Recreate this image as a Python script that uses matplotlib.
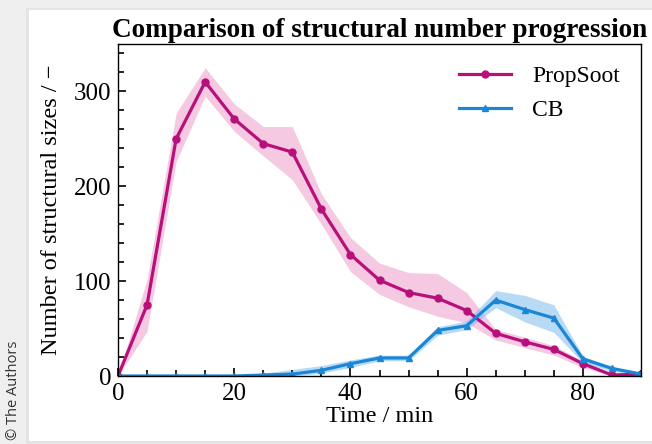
import matplotlib as mpl
import matplotlib.pyplot as plt
from matplotlib.patches import Rectangle
from matplotlib.ticker import MultipleLocator

mpl.rcParams["font.family"] = ["Liberation Serif", "DejaVu Serif"]
mpl.rcParams["mathtext.fontset"] = "stix"

# data
time = [0, 5, 10, 15, 20, 25, 30, 35, 40, 45, 50, 55, 60, 65, 70, 75, 80, 85, 90]

propsoot = [0, 75, 250, 310, 271, 245, 236, 176, 128, 101, 88, 82, 69, 45, 36, 28, 13, 1, 2]
propsoot_hi = [0, 102, 277, 325, 287, 263, 263, 192, 146, 119, 109, 108, 88, 49, 41, 32, 16, 3, 3]
propsoot_lo = [0, 47, 226, 295, 258, 232, 207, 160, 110, 86, 73, 63, 56, 38, 30, 22, 9, 0, 1]

cb = [0, 0, 0, 0, 0, 1, 2, 6, 13, 19, 19, 48, 53, 80, 70, 61, 18, 8, 2]
cb_hi = [0, 1, 1, 1, 1, 3, 7, 11, 17, 22, 22, 52, 58, 90, 85, 75, 21, 10, 3]
cb_lo = [0, 0, 0, 0, 0, 0, 0, 3, 9, 16, 16, 43, 49, 72, 57, 46, 14, 5, 1]

pink = "#b8107a"
blue = "#1a86d6"

fig = plt.figure(figsize=(6.52, 4.44), dpi=100, facecolor="#efefef")
# white card with a light shadow, as in the screenshot
fig.patches.append(Rectangle((26 / 652, 0), 1, 1 - 8 / 444, transform=fig.transFigure,
                             facecolor="#e4e4e4", edgecolor="none", zorder=-10))
fig.patches.append(Rectangle((29 / 652, 3 / 444), 1, 1 - 13 / 444, transform=fig.transFigure,
                             facecolor="white", edgecolor="none", zorder=-9))

ax = fig.add_axes([118 / 652, (444 - 376) / 444, (641 - 118) / 652, (376 - 44) / 444])

ax.fill_between(time, propsoot_lo, propsoot_hi, color="#e889bd", alpha=0.45, linewidth=0)
ax.fill_between(time, cb_lo, cb_hi, color="#7fbdee", alpha=0.55, linewidth=0)
ax.plot(time, propsoot, color=pink, linewidth=2.3, marker="o", markersize=5, label="PropSoot")
ax.plot(time, cb, color=blue, linewidth=2.3, marker="^", markersize=4, label="CB")

ax.set_xlim(0, 90)
ax.set_ylim(0, 350)
ax.xaxis.set_major_locator(MultipleLocator(20))
ax.xaxis.set_minor_locator(MultipleLocator(5))
ax.yaxis.set_major_locator(MultipleLocator(100))
ax.yaxis.set_minor_locator(MultipleLocator(20))
ax.tick_params(which="both", direction="in", top=False, right=False, labelsize=18, width=1.2)
ax.tick_params(which="major", length=6, pad=5)
ax.tick_params(which="minor", length=4)
for s in ax.spines.values():
    s.set_linewidth(1)

ax.set_xlabel("Time / min", fontsize=17.5, labelpad=1)
ax.set_ylabel("Number of structural sizes / −", fontsize=17.5, labelpad=8)
ax.set_title("Comparison of structural number progression", fontsize=19.5,
             fontweight="bold", pad=5)

ax.legend(loc="upper right", frameon=False, fontsize=17, handlelength=2.2,
          handletextpad=0.9, borderaxespad=0.5, labelspacing=0.55)

fig.text(14 / 652, 0.01, "© The Authors", rotation=90, family="Open Sans",
         fontsize=10.5, color="#333333", ha="center", va="bottom")

fig.savefig("out.png", dpi=100, facecolor=fig.get_facecolor())
